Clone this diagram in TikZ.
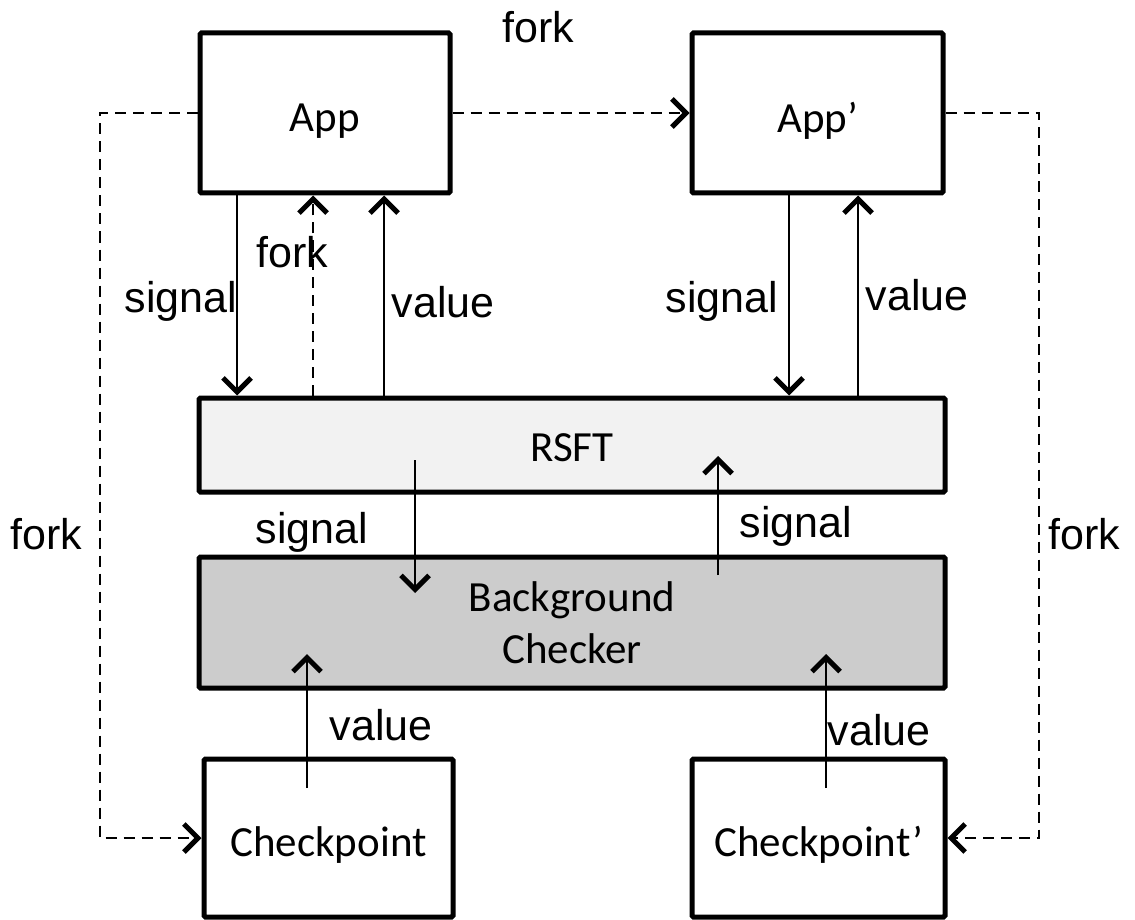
\documentclass[tikz,border=0pt]{standalone}
\usepackage{fontspec}
\setmainfont{Liberation Sans}
\newfontfamily\boxfont{Carlito}
\usetikzlibrary{arrows.meta}
\definecolor{rsftfill}{HTML}{F2F2F2}
\definecolor{bcfill}{HTML}{CCCCCC}
\newcommand{\lowered}[2]{\raisebox{#1}[\height][\depth]{#2}}
\begin{document}
\begin{tikzpicture}[x=1pt,y=-1pt,
  box/.style={draw, line width=5pt, rounded corners=1.5pt, inner sep=0pt,
    font=\boxfont\fontsize{43}{52}\selectfont, align=center},
  lbl/.style={font=\fontsize{43}{52}\selectfont, anchor=base, inner sep=0pt},
  conn/.style={line width=2.6pt},
  dsh/.style={line width=2.6pt, dash pattern=on 11pt off 7pt},
  arr/.style={-{Straight Barb[length=14pt,width=28pt,line width=5pt]}}]
\fill[white] (0,0) rectangle (1135,920);
\useasboundingbox (0,0) rectangle (1135,920);

% boxes
\node[box, minimum width=250pt, minimum height=160pt] (app) at (325,113) {\lowered{-8pt}{App}};
\node[box, minimum width=251pt, minimum height=160pt] (app2) at (817.5,113) {\lowered{-8pt}{App’}};
\node[box, fill=rsftfill, minimum width=746pt, minimum height=94pt] (rsft) at (572,445) {\lowered{-3pt}{RSFT}};
\node[box, fill=bcfill, minimum width=746pt, minimum height=131pt] (bc) at (572,622.5) {Background\\Checker};
\node[box, minimum width=249pt, minimum height=158pt] (cp) at (328.5,838) {\lowered{-7pt}{Checkpoint}};
\node[box, minimum width=253pt, minimum height=158pt] (cp2) at (818.5,838) {\lowered{-7pt}{Checkpoint’}};

% App <-> RSFT
\draw[conn,arr] (237,0 |- app.south) -- (237,0 |- rsft.north);
\draw[dsh,arr] (313,0 |- rsft.north) -- (313,0 |- app.south);
\draw[conn,arr] (384,0 |- rsft.north) -- (384,0 |- app.south);
\draw[conn,arr] (789,0 |- app2.south) -- (789,0 |- rsft.north);
\draw[conn,arr] (858,0 |- rsft.north) -- (858,0 |- app2.south);

% RSFT <-> BC
\coordinate (s1a) at (415,460);
\coordinate (s1b) at (415,593);
\coordinate (s2a) at (718,575);
\coordinate (s2b) at (718,456);
\draw[conn,arr] (s1a) -- (s1b);
\draw[conn,arr] (s2a) -- (s2b);

% Checkpoints -> BC
\coordinate (v1a) at (307,788);
\coordinate (v1b) at (307,654);
\coordinate (v2a) at (826,788);
\coordinate (v2b) at (826,654);
\draw[conn,arr] (v1a) -- (v1b);
\draw[conn,arr] (v2a) -- (v2b);

% fork dashed
\draw[dsh,arr] (app.west) -- (100,0 |- app.west) -- (100,0 |- cp.west) -- (cp.west);
\draw[dsh,arr] (app.east) -- (app2.west);
\draw[dsh,arr] (app2.east) -- (1039,0 |- app2.east) -- (1039,0 |- cp2.east) -- (cp2.east);

% labels
\node[lbl] (l1) at (538,43) {fork};
\node[lbl] (l2) at (292,267) {fork};
\node[lbl] (l3) at (181,312) {signal};
\node[lbl] (l4) at (443,317) {value};
\node[lbl] (l5) at (722,312) {signal};
\node[lbl] (l6) at (917,310) {value};
\node[lbl] (l7) at (312,543) {signal};
\node[lbl] (l8) at (796,537) {signal};
\node[lbl] (l9) at (381,740) {value};
\node[lbl] (l10) at (879,745) {value};
\node[lbl] (l11) at (46,549) {fork};
\node[lbl] (l12) at (1084,549) {fork};
\end{tikzpicture}
\end{document}
